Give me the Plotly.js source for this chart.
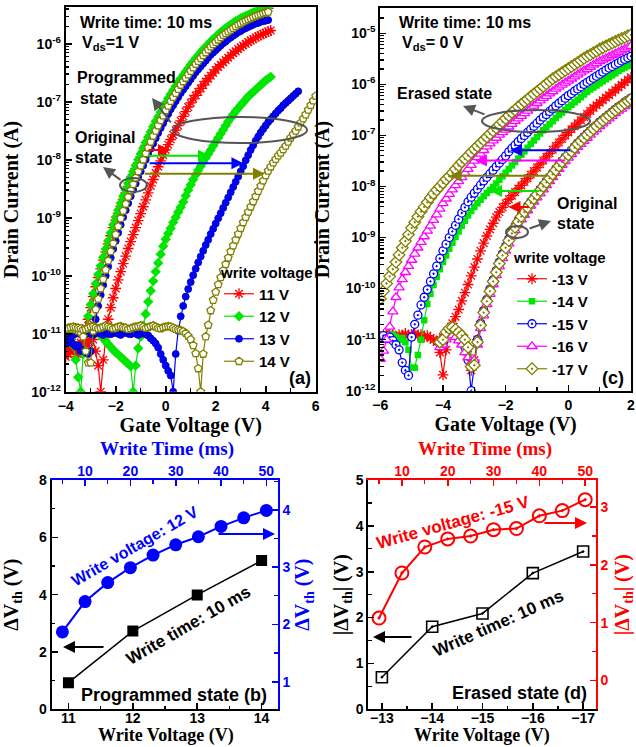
<!DOCTYPE html>
<html><head><meta charset="utf-8">
<script src="https://cdn.plot.ly/plotly-3.0.1.min.js"></script>
<style>html,body{margin:0;padding:0;background:#fff}#chart{width:636px;height:747px}</style>
</head><body><div id="chart"></div>
<script>
// ---------------- DATA ----------------
// Panel (a): transfer curves, log10(Drain current / A) vs gate voltage (0.1 V steps)
const A_START = -4.0;
const A_RED_ORIG = [-11.40,-11.25,-11.30,-11.20,-11.28,-11.35,-11.22,-11.05,-10.90,-10.75,
-10.55,-10.36,-10.19,-10.03,-9.88,-9.73,-9.59,-9.45,-9.31,-9.17,
-9.04,-8.92,-8.80,-8.68,-8.57,-8.46,-8.35,-8.25,-8.15,-8.05,
-7.95,-7.85,-7.75,-7.66,-7.57,-7.48,-7.39,-7.31,-7.23,-7.15,
-7.07,-6.99,-6.92,-6.85,-6.78,-6.71,-6.65,-6.59,-6.53,-6.47,
-6.41,-6.36,-6.30,-6.25,-6.20,-6.15,-6.10,-6.06,-6.01,-5.97,
-5.93,-5.89,-5.85,-5.81,-5.78,-5.74,-5.71,-5.68,-5.65,-5.62,
-5.60,-5.57,-5.55,-5.53,-5.51,-5.49,-5.47,-5.45,-5.43,-5.42,
-5.40,-5.39];
const A_RED_PROG = [-11.20,-11.35,-11.10,-11.25,-11.40,-11.20,-11.15,-11.30,-11.10,-11.20,
-11.05,-11.10,-11.30,-11.55,-12.00,-11.45,-11.05,-10.75,-10.55,-10.38,
-10.22,-10.07,-9.93,-9.79,-9.66,-9.53,-9.41,-9.29,-9.17,-9.05,
-8.93,-8.81,-8.69,-8.57,-8.45,-8.34,-8.23,-8.12,-8.02,-7.92,
-7.83,-7.74,-7.65,-7.57,-7.49,-7.41,-7.33,-7.25,-7.17,-7.09,
-7.02,-6.95,-6.89,-6.83,-6.77,-6.71,-6.65,-6.60,-6.55,-6.50,
-6.45,-6.40,-6.36,-6.32,-6.28,-6.24,-6.20,-6.16,-6.13,-6.09,
-6.06,-6.03,-6.00,-5.97,-5.94,-5.92,-5.89,-5.87,-5.85,-5.83,
-5.81,-5.79,-5.77];
const A_GREEN_ORIG = [-11.10,-11.15,-11.10,-11.20,-11.45,-11.75,-12.00,-11.35,-10.95,-10.70,
-10.50,-10.31,-10.14,-9.98,-9.83,-9.68,-9.54,-9.40,-9.26,-9.12,
-8.99,-8.87,-8.75,-8.63,-8.52,-8.41,-8.30,-8.20,-8.10,-8.00,
-7.90,-7.80,-7.70,-7.61,-7.52,-7.43,-7.34,-7.26,-7.18,-7.10,
-7.02,-6.94,-6.87,-6.80,-6.73,-6.66,-6.60,-6.54,-6.48,-6.42,
-6.36,-6.31,-6.25,-6.20,-6.15,-6.10,-6.05,-6.01,-5.96,-5.92,
-5.88,-5.84,-5.80,-5.77,-5.73,-5.70,-5.67,-5.64,-5.61,-5.59,
-5.56,-5.54,-5.52,-5.50,-5.48,-5.46,-5.44,-5.43,-5.41,-5.40,
-5.38,-5.37];
const A_GREEN_PROG = [-10.98,-11.00,-10.95,-10.97,-10.94,-10.96,-10.93,-10.95,-10.92,-10.90,
-10.92,-10.90,-10.93,-10.98,-11.03,-11.08,-11.13,-11.18,-11.23,-11.28,
-11.32,-11.36,-11.40,-11.44,-11.48,-11.52,-11.56,-12.00,-11.55,-11.25,
-11.05,-10.86,-10.66,-10.45,-10.26,-10.09,-9.93,-9.78,-9.63,-9.49,
-9.37,-9.27,-9.18,-9.08,-8.99,-8.90,-8.82,-8.73,-8.62,-8.52,
-8.43,-8.34,-8.26,-8.18,-8.11,-8.04,-7.97,-7.90,-7.83,-7.76,
-7.69,-7.62,-7.55,-7.48,-7.41,-7.34,-7.28,-7.22,-7.16,-7.11,
-7.06,-7.01,-6.96,-6.91,-6.87,-6.83,-6.79,-6.75,-6.71,-6.67,
-6.63,-6.60,-6.57];
const A_BLUE_ORIG = [-11.10,-11.15,-11.12,-11.18,-11.22,-11.20,-11.30,-11.28,-11.32,-11.35,
-11.30,-11.00,-10.75,-10.52,-10.33,-10.16,-10.00,-9.84,-9.69,-9.54,
-9.40,-9.26,-9.12,-8.99,-8.87,-8.75,-8.63,-8.52,-8.41,-8.30,
-8.20,-8.10,-8.00,-7.90,-7.81,-7.72,-7.63,-7.54,-7.45,-7.37,
-7.29,-7.21,-7.13,-7.06,-6.99,-6.92,-6.85,-6.79,-6.73,-6.67,
-6.61,-6.55,-6.49,-6.44,-6.39,-6.34,-6.29,-6.24,-6.19,-6.15,
-6.11,-6.07,-6.03,-5.99,-5.96,-5.92,-5.89,-5.86,-5.83,-5.80,
-5.78,-5.75,-5.73,-5.71,-5.69,-5.67,-5.65,-5.64,-5.62,-5.61,
-5.60,-5.59];
const A_BLUE_PROG = [-11.05,-11.00,-10.98,-11.02,-11.00,-10.97,-11.01,-11.03,-11.00,-10.98,
-11.00,-11.02,-10.99,-10.97,-11.00,-11.02,-10.98,-11.00,-11.01,-10.99,
-10.98,-11.00,-11.02,-10.99,-10.97,-11.00,-11.01,-10.99,-11.00,-11.02,
-11.00,-10.99,-11.01,-11.03,-11.08,-11.12,-11.17,-11.24,-11.35,-11.45,
-11.55,-11.64,-11.72,-12.00,-11.35,-10.95,-10.70,-10.52,-10.36,-10.23,
-10.11,-9.99,-9.88,-9.77,-9.67,-9.57,-9.47,-9.38,-9.28,-9.19,
-9.10,-9.01,-8.92,-8.83,-8.74,-8.65,-8.56,-8.47,-8.38,-8.29,
-8.20,-8.11,-8.01,-7.92,-7.83,-7.75,-7.67,-7.60,-7.53,-7.47,
-7.41,-7.35,-7.30,-7.25,-7.20,-7.15,-7.11,-7.06,-7.02,-6.98,
-6.94,-6.90,-6.86,-6.82];
const A_OLIVE_ORIG = [-10.95,-10.93,-10.92,-10.92,-10.93,-10.95,-10.98,-11.05,-11.30,-11.50,
-11.50,-10.95,-10.58,-10.40,-10.22,-10.06,-9.90,-9.74,-9.58,-9.44,
-9.29,-9.15,-9.01,-8.88,-8.76,-8.64,-8.53,-8.42,-8.31,-8.20,
-8.10,-8.00,-7.89,-7.79,-7.69,-7.59,-7.50,-7.41,-7.32,-7.24,
-7.15,-7.07,-6.99,-6.92,-6.85,-6.78,-6.71,-6.65,-6.59,-6.53,
-6.47,-6.41,-6.35,-6.30,-6.25,-6.20,-6.15,-6.10,-6.05,-6.01,
-5.97,-5.93,-5.89,-5.85,-5.82,-5.79,-5.76,-5.73,-5.70,-5.67,
-5.65,-5.62,-5.60,-5.58,-5.56,-5.54,-5.52,-5.50,-5.49,-5.47,
-5.46,-5.45];
const A_OLIVE_PROG = [-10.92,-10.90,-10.89,-10.88,-10.89,-10.90,-10.91,-10.93,-10.92,-10.90,
-10.88,-10.87,-10.89,-10.91,-10.90,-10.88,-10.86,-10.87,-10.89,-10.91,
-10.90,-10.88,-10.87,-10.89,-10.90,-10.92,-10.91,-10.89,-10.88,-10.87,
-10.86,-10.88,-10.90,-10.89,-10.87,-10.86,-10.88,-10.90,-10.91,-10.89,
-10.88,-10.87,-10.88,-10.90,-10.92,-10.93,-10.94,-10.96,-10.99,-11.04,
-11.10,-11.20,-11.34,-11.60,-12.00,-11.35,-11.05,-10.85,-10.60,-10.42,
-10.28,-10.15,-10.03,-9.91,-9.80,-9.69,-9.58,-9.48,-9.38,-9.28,
-9.18,-9.08,-8.99,-8.90,-8.81,-8.72,-8.63,-8.54,-8.45,-8.36,
-8.27,-8.19,-8.12,-8.05,-7.99,-7.93,-7.88,-7.82,-7.76,-7.69,
-7.62,-7.56,-7.50,-7.43,-7.36,-7.29,-7.22,-7.14,-7.06,-6.98,
-6.90];
const A_LEGEND = ['11 V','12 V','13 V','14 V'];

// Panel (c): erased curves start at -6.0 V, original curves at -4.1 V
const C_ERASED_START = -6.0;
const C_ORIG_START = -4.1;
const C_RED_ERASED = [-10.95,-10.90,-10.93,-10.88,-10.92,-10.95,-10.90,-10.93,-10.88,-10.92,
-10.90,-10.88,-10.93,-10.90,-10.95,-10.92,-10.97,-11.00,-11.05,-11.25,
-11.69,-11.20,-10.87,-10.68,-10.55,-10.41,-10.24,-10.08,-9.92,-9.75,
-9.58,-9.42,-9.26,-9.11,-8.97,-8.84,-8.72,-8.60,-8.50,-8.41,
-8.33,-8.25,-8.18,-8.11,-8.04,-7.98,-7.91,-7.84,-7.77,-7.70,
-7.63,-7.56,-7.49,-7.42,-7.35,-7.28,-7.21,-7.14,-7.07,-7.00,
-6.94,-6.88,-6.82,-6.76,-6.70,-6.64,-6.58,-6.52,-6.46,-6.41,
-6.36,-6.31,-6.26,-6.21,-6.16,-6.11,-6.06,-6.01,-5.96,-5.91,
-5.86];
const C_GREEN_ERASED = [-10.95,-10.98,-10.92,-10.96,-10.90,-10.95,-11.00,-10.97,-11.05,-11.20,
-11.55,-11.55,-11.30,-11.00,-10.62,-10.30,-10.10,-9.93,-9.77,-9.62,
-9.48,-9.35,-9.22,-9.10,-8.99,-8.88,-8.77,-8.67,-8.57,-8.48,
-8.40,-8.33,-8.26,-8.19,-8.13,-8.07,-8.01,-7.94,-7.87,-7.80,
-7.73,-7.66,-7.59,-7.52,-7.45,-7.38,-7.31,-7.24,-7.17,-7.10,
-7.03,-6.96,-6.90,-6.84,-6.78,-6.72,-6.66,-6.60,-6.55,-6.50,
-6.45,-6.40,-6.35,-6.30,-6.25,-6.20,-6.15,-6.10,-6.06,-6.02,
-5.98,-5.94,-5.90,-5.86,-5.82,-5.78,-5.74,-5.70,-5.67,-5.64,
-5.61];
const C_BLUE_ERASED = [-10.95,-10.92,-10.98,-10.95,-11.02,-11.10,-11.20,-11.45,-11.60,-11.70,
-10.95,-10.70,-10.52,-10.32,-10.17,-10.02,-9.86,-9.71,-9.56,-9.41,
-9.26,-9.13,-9.00,-8.88,-8.76,-8.64,-8.52,-8.41,-8.30,-8.21,
-8.13,-8.05,-7.97,-7.89,-7.82,-7.75,-7.68,-7.61,-7.54,-7.47,
-7.40,-7.32,-7.25,-7.19,-7.12,-7.06,-7.00,-6.94,-6.88,-6.82,
-6.76,-6.70,-6.64,-6.59,-6.53,-6.48,-6.42,-6.37,-6.32,-6.27,
-6.22,-6.18,-6.13,-6.09,-6.05,-6.00,-5.96,-5.92,-5.88,-5.84,
-5.80,-5.76,-5.72,-5.68,-5.65,-5.61,-5.58,-5.54,-5.51,-5.48,
-5.45];
const C_MAGENTA_ERASED = [-11.38,-11.22,-11.00,-10.75,-10.45,-10.17,-9.98,-9.82,-9.68,-9.56,
-9.44,-9.32,-9.20,-9.09,-8.98,-8.87,-8.77,-8.66,-8.55,-8.44,
-8.33,-8.24,-8.15,-8.06,-7.98,-7.90,-7.82,-7.74,-7.66,-7.58,
-7.50,-7.43,-7.36,-7.29,-7.22,-7.16,-7.10,-7.05,-6.99,-6.94,
-6.89,-6.83,-6.78,-6.72,-6.67,-6.62,-6.57,-6.52,-6.47,-6.42,
-6.37,-6.32,-6.27,-6.23,-6.18,-6.14,-6.09,-6.05,-6.01,-5.97,
-5.93,-5.89,-5.85,-5.81,-5.77,-5.73,-5.70,-5.66,-5.62,-5.59,
-5.55,-5.52,-5.49,-5.46,-5.43,-5.40,-5.37,-5.34,-5.31,-5.28,
-5.25];
const C_OLIVE_ERASED = [-10.20,-10.05,-9.90,-9.76,-9.62,-9.48,-9.34,-9.20,-9.07,-8.94,
-8.81,-8.70,-8.59,-8.49,-8.40,-8.31,-8.22,-8.14,-8.07,-8.00,
-7.93,-7.86,-7.80,-7.73,-7.66,-7.59,-7.52,-7.46,-7.40,-7.33,
-7.27,-7.21,-7.15,-7.09,-7.03,-6.97,-6.91,-6.85,-6.79,-6.73,
-6.67,-6.61,-6.55,-6.50,-6.44,-6.39,-6.34,-6.29,-6.24,-6.19,
-6.14,-6.09,-6.04,-5.99,-5.94,-5.89,-5.85,-5.81,-5.77,-5.73,
-5.69,-5.65,-5.61,-5.57,-5.53,-5.49,-5.45,-5.42,-5.38,-5.35,
-5.31,-5.28,-5.25,-5.22,-5.19,-5.16,-5.13,-5.10,-5.08,-5.05,
-5.03];
const C_RED_ORIG = [-11.00,-10.95,-10.90,-10.85,-10.88,-10.92,-10.95,-11.00,-11.10,-11.30,
-11.60,-11.40,-11.00,-10.70,-10.45,-10.24,-10.04,-9.85,-9.67,-9.50,
-9.34,-9.19,-9.05,-8.91,-8.79,-8.68,-8.58,-8.49,-8.40,-8.31,
-8.23,-8.15,-8.07,-7.99,-7.91,-7.83,-7.75,-7.67,-7.59,-7.51,
-7.44,-7.37,-7.30,-7.23,-7.16,-7.10,-7.04,-6.98,-6.92,-6.86,
-6.81,-6.75,-6.70,-6.65,-6.60,-6.55,-6.50,-6.45,-6.41,-6.36,
-6.32,-6.28];
const C_GREEN_ORIG = [-11.02,-10.98,-10.92,-10.88,-10.85,-10.90,-10.96,-11.04,-11.12,-11.28,
-11.50,-11.45,-11.02,-10.71,-10.46,-10.24,-10.04,-9.85,-9.67,-9.50,
-9.35,-9.20,-9.06,-8.92,-8.80,-8.69,-8.59,-8.50,-8.41,-8.32,
-8.24,-8.16,-8.08,-8.00,-7.92,-7.84,-7.76,-7.68,-7.60,-7.52,
-7.45,-7.38,-7.31,-7.24,-7.17,-7.11,-7.05,-6.99,-6.93,-6.87,
-6.82,-6.76,-6.71,-6.66,-6.61,-6.56,-6.51,-6.46,-6.42,-6.37,
-6.33,-6.29];
const C_BLUE_ORIG = [-11.08,-11.05,-10.95,-10.90,-10.88,-10.92,-10.98,-11.05,-11.15,-11.40,
-12.00,-11.45,-11.00,-10.68,-10.43,-10.21,-10.01,-9.83,-9.65,-9.48,
-9.32,-9.17,-9.03,-8.90,-8.78,-8.67,-8.57,-8.48,-8.39,-8.30,
-8.22,-8.14,-8.06,-7.98,-7.90,-7.82,-7.74,-7.66,-7.58,-7.50,
-7.43,-7.36,-7.29,-7.22,-7.15,-7.09,-7.03,-6.97,-6.91,-6.85,
-6.80,-6.74,-6.69,-6.64,-6.59,-6.54,-6.49,-6.44,-6.40,-6.35,
-6.31,-6.27];
const C_MAGENTA_ORIG = [-11.15,-11.10,-11.00,-10.95,-10.92,-10.95,-11.02,-11.10,-11.25,-11.35,
-11.45,-11.40,-11.10,-10.78,-10.53,-10.31,-10.11,-9.92,-9.74,-9.57,
-9.41,-9.26,-9.12,-8.98,-8.86,-8.75,-8.65,-8.56,-8.47,-8.38,
-8.30,-8.22,-8.14,-8.06,-7.98,-7.90,-7.82,-7.74,-7.66,-7.58,
-7.51,-7.44,-7.37,-7.30,-7.23,-7.17,-7.11,-7.05,-6.99,-6.93,
-6.88,-6.82,-6.77,-6.72,-6.67,-6.62,-6.57,-6.52,-6.48,-6.43,
-6.39,-6.35];
const C_OLIVE_ORIG = [-11.05,-11.00,-10.85,-10.78,-10.76,-10.80,-10.86,-10.92,-11.00,-11.15,
-11.53,-11.50,-11.05,-10.72,-10.47,-10.25,-10.05,-9.86,-9.68,-9.51,
-9.35,-9.20,-9.06,-8.92,-8.80,-8.69,-8.59,-8.50,-8.41,-8.32,
-8.24,-8.16,-8.08,-8.00,-7.92,-7.84,-7.76,-7.68,-7.60,-7.52,
-7.45,-7.38,-7.31,-7.24,-7.17,-7.11,-7.05,-6.99,-6.93,-6.87,
-6.82,-6.76,-6.71,-6.66,-6.61,-6.56,-6.51,-6.46,-6.42,-6.37,
-6.33,-6.29];
const C_LEGEND = ['-13 V','-14 V','-15 V','-16 V','-17 V'];

// Panel (b)
const B_VOLT = [11, 12, 13, 14];
const B_DVTH_VOLT = [0.93, 2.73, 3.99, 5.19];
const B_TIME = [5, 10, 15, 20, 25, 30, 35, 40, 45, 50];
const B_DVTH_TIME = [1.87, 2.40, 2.73, 2.99, 3.21, 3.39, 3.53, 3.71, 3.86, 3.99];
// Panel (d)
const D_VOLT = [-13, -14, -15, -16, -17];
const D_DVTH_VOLT = [0.70, 1.80, 2.09, 2.97, 3.44];
const D_TIME = [5, 10, 15, 20, 25, 30, 35, 40, 45, 50];
const D_DVTH_TIME = [1.08, 1.86, 2.31, 2.45, 2.50, 2.61, 2.63, 2.85, 2.94, 3.13];

// ---------------- STYLE ----------------
const W = 636, H = 747;
const PX = x => x / W, PY = y => 1 - y / H;
const RED = '#ff0000', GREEN = '#00e600', BLUE = '#0000ff', MAG = '#ff00ff', OLIVE = '#808000';
const SANS = 'Liberation Sans, Arial, sans-serif';
const SERIF = 'Liberation Serif, Times New Roman, serif';
const TICKF = c => ({family: SANS, size: 14, weight: 'bold', color: c || 'black'});
const TITLEF = (c, s) => ({family: SERIF, size: s || 20, weight: 'bold', color: c || 'black'});

function gate(start, n) { const a = []; for (let i = 0; i < n; i++) a.push(Math.round((start + 0.1 * i) * 10) / 10); return a; }
function logMinor(lo, hi, top) { const v = []; for (let n = lo; n < hi; n++) for (let k = 2; k < 10; k++) { const t = n + Math.log10(k); if (t < top) v.push(t); } return v; }
function expLabels(lo, hi) { const v = [], t = []; for (let n = lo; n <= hi; n++) { v.push(n); t.push('10<sup>' + n + '</sup>'); } return {v, t}; }

const MK = {
  aRed: {symbol: 'asterisk-open', size: 9, color: RED, line: {color: RED, width: 1.3}},
  aGreen: {symbol: 'diamond', size: 8, color: GREEN, line: {width: 0}},
  aBlue: {symbol: 'circle', size: 7, color: BLUE, line: {color: '#0000b0', width: 0.8}},
  aOlive: {symbol: 'pentagon', size: 8, color: 'white', line: {color: OLIVE, width: 1.3}},
  cRed: {symbol: 'asterisk-open', size: 9, color: RED, line: {color: RED, width: 1.3}},
  cGreen: {symbol: 'square', size: 6.5, color: GREEN, line: {width: 0}},
  cBlue: {symbol: 'circle-dot', size: 8, color: 'white', line: {color: BLUE, width: 1.3}},
  cMag: {symbol: 'triangle-up', size: 9, color: 'white', line: {color: MAG, width: 1.3}},
  cOlive: {symbol: 'diamond-dot', size: 9, color: 'white', line: {color: OLIVE, width: 1.3}}
};

function curve(start, vals, color, marker, xa, ya, name, legend) {
  return {x: gate(start, vals.length), y: vals, xaxis: xa, yaxis: ya, type: 'scatter', mode: 'lines+markers',
    line: {color: color, width: 1.2}, marker: marker, name: name || '', showlegend: !!name,
    legend: legend || 'legend', hoverinfo: 'skip'};
}

const traces = [
  curve(A_START, A_RED_ORIG, RED, MK.aRed, 'x', 'y'),
  curve(A_START, A_RED_PROG, RED, MK.aRed, 'x', 'y', A_LEGEND[0], 'legend'),
  curve(A_START, A_GREEN_ORIG, GREEN, MK.aGreen, 'x', 'y'),
  curve(A_START, A_GREEN_PROG, GREEN, MK.aGreen, 'x', 'y', A_LEGEND[1], 'legend'),
  curve(A_START, A_BLUE_ORIG, BLUE, MK.aBlue, 'x', 'y'),
  curve(A_START, A_BLUE_PROG, BLUE, MK.aBlue, 'x', 'y', A_LEGEND[2], 'legend'),
  curve(A_START, A_OLIVE_ORIG, OLIVE, MK.aOlive, 'x', 'y'),
  curve(A_START, A_OLIVE_PROG, OLIVE, MK.aOlive, 'x', 'y', A_LEGEND[3], 'legend'),

  curve(C_ORIG_START, C_RED_ORIG, RED, MK.cRed, 'x2', 'y2'),
  curve(C_ERASED_START, C_RED_ERASED, RED, MK.cRed, 'x2', 'y2', C_LEGEND[0], 'legend2'),
  curve(C_ORIG_START, C_GREEN_ORIG, GREEN, MK.cGreen, 'x2', 'y2'),
  curve(C_ERASED_START, C_GREEN_ERASED, GREEN, MK.cGreen, 'x2', 'y2', C_LEGEND[1], 'legend2'),
  curve(C_ORIG_START, C_BLUE_ORIG, BLUE, MK.cBlue, 'x2', 'y2'),
  curve(C_ERASED_START, C_BLUE_ERASED, BLUE, MK.cBlue, 'x2', 'y2', C_LEGEND[2], 'legend2'),
  curve(C_ORIG_START, C_MAGENTA_ORIG, MAG, MK.cMag, 'x2', 'y2'),
  curve(C_ERASED_START, C_MAGENTA_ERASED, MAG, MK.cMag, 'x2', 'y2', C_LEGEND[3], 'legend2'),
  curve(C_ORIG_START, C_OLIVE_ORIG, OLIVE, MK.cOlive, 'x2', 'y2'),
  curve(C_ERASED_START, C_OLIVE_ERASED, OLIVE, MK.cOlive, 'x2', 'y2', C_LEGEND[4], 'legend2'),

  {x: B_VOLT, y: B_DVTH_VOLT, xaxis: 'x3', yaxis: 'y3', mode: 'lines+markers', showlegend: false, hoverinfo: 'skip',
   line: {color: 'black', width: 1.5}, marker: {symbol: 'square', size: 11, color: 'black'}},
  {x: B_TIME, y: B_DVTH_TIME, xaxis: 'x4', yaxis: 'y4', mode: 'lines+markers', showlegend: false, hoverinfo: 'skip',
   line: {color: BLUE, width: 2}, marker: {symbol: 'circle', size: 13, color: BLUE}},
  {x: D_VOLT, y: D_DVTH_VOLT, xaxis: 'x5', yaxis: 'y5', mode: 'lines+markers', showlegend: false, hoverinfo: 'skip',
   line: {color: 'black', width: 1.5}, marker: {symbol: 'square-open-dot', size: 11, color: 'black', line: {color: 'black', width: 1.6}}},
  {x: D_TIME, y: D_DVTH_TIME, xaxis: 'x6', yaxis: 'y6', mode: 'lines+markers', showlegend: false, hoverinfo: 'skip',
   line: {color: RED, width: 2}, marker: {symbol: 'circle-open-dot', size: 13, color: RED, line: {color: RED, width: 2}}}
];

const yA = expLabels(-12, -6), yC = expLabels(-12, -5);
const base = (c) => ({showgrid: false, zeroline: false, showline: true, linewidth: 2, linecolor: c || 'black',
  ticks: 'inside', ticklen: 6, tickwidth: 1.6, tickcolor: c || 'black', tickfont: TICKF(c)});
const minor = (o, c) => Object.assign({ticks: 'inside', ticklen: 3.5, tickwidth: 1.3, tickcolor: c || 'black', showgrid: false}, o);

const layout = {
  width: W, height: H, margin: {l: 0, r: 0, t: 0, b: 0}, paper_bgcolor: 'white', plot_bgcolor: 'white',
  font: {family: SANS}, hovermode: false,
  xaxis: Object.assign(base(), {domain: [PX(65.7), PX(315.7)], range: [-4, 6], anchor: 'y', mirror: true,
    tickmode: 'array', tickvals: [-4, -2, 0, 2, 4, 6], title: {text: 'Gate Voltage (V)', font: TITLEF(), standoff: 3},
    minor: minor({tickmode: 'array', tickvals: [-3, -1, 1, 3, 5]})}),
  yaxis: Object.assign(base(), {domain: [PY(391.7), PY(7.3)], range: [-12, -5.37], anchor: 'x', mirror: true,
    tickmode: 'array', tickvals: yA.v, ticktext: yA.t, title: {text: 'Drain Current (A)', font: TITLEF()},
    minor: minor({tickmode: 'array', tickvals: logMinor(-12, -5, -5.37)})}),
  xaxis2: Object.assign(base(), {domain: [PX(380.3), PX(631)], range: [-6, 2], anchor: 'y2', mirror: true,
    tickmode: 'array', tickvals: [-6, -4, -2, 0, 2], title: {text: 'Gate Voltage (V)', font: TITLEF(), standoff: 3},
    minor: minor({tickmode: 'array', tickvals: [-5, -3, -1, 1]})}),
  yaxis2: Object.assign(base(), {domain: [PY(390.7), PY(8.3)], range: [-12, -4.51], anchor: 'x2', mirror: true,
    tickmode: 'array', tickvals: yC.v, ticktext: yC.t, title: {text: 'Drain Current (A)', font: TITLEF()},
    minor: minor({tickmode: 'array', tickvals: logMinor(-12, -4, -4.51)})}),

  xaxis3: Object.assign(base(), {domain: [PX(51.7), PX(277.7)], range: [10.74, 14.25], anchor: 'y3', dtick: 1,
    ticklabelstandoff: -5, minor: minor({dtick: 0.5})}),
  yaxis3: Object.assign(base(), {domain: [PY(709.3), PY(480)], range: [0, 8], anchor: 'x3', dtick: 2,
    title: {text: 'ΔV<sub>th</sub> (V)', font: TITLEF()}, minor: minor({dtick: 1})}),
  xaxis4: Object.assign(base(BLUE), {overlaying: 'x3', side: 'top', anchor: 'y3', range: [2.64, 52.5], tick0: 0, dtick: 10,
    ticklabelstandoff: -4, minor: minor({dtick: 5}, BLUE)}),
  yaxis4: Object.assign(base(BLUE), {overlaying: 'y3', side: 'right', anchor: 'x3', range: [0.52, 4.52], dtick: 1,
    title: {text: 'ΔV<sub>th</sub> (V)', font: TITLEF(BLUE), standoff: 6}, minor: minor({dtick: 0.5}, BLUE)}),

  xaxis5: Object.assign(base(), {domain: [PX(368.3), PX(595.7)], range: [-12.73, -17.25], anchor: 'y5', dtick: 1,
    ticklabelstandoff: -5, minor: minor({dtick: 0.5})}),
  yaxis5: Object.assign(base(), {domain: [PY(709.3), PY(480)], range: [0, 5], anchor: 'x5', dtick: 1,
    title: {text: '|ΔV<sub>th</sub>| (V)', font: TITLEF(), standoff: 2}, minor: minor({dtick: 0.5})}),
  xaxis6: Object.assign(base(RED), {overlaying: 'x5', side: 'top', anchor: 'y5', range: [2.66, 52.3], tick0: 0, dtick: 10,
    ticklabelstandoff: -4, minor: minor({dtick: 5}, RED)}),
  yaxis6: Object.assign(base(RED), {overlaying: 'y5', side: 'right', anchor: 'x5', range: [-0.5, 3.47], dtick: 1,
    title: {text: '|ΔV<sub>th</sub>| (V)', font: TITLEF(RED)}, minor: minor({dtick: 0.5}, RED)}),

  legend: {x: PX(219), y: PY(258), xanchor: 'left', yanchor: 'top', bgcolor: 'rgba(0,0,0,0)', tracegroupgap: 0,
    title: {text: 'write voltage', font: {family: SANS, size: 15, weight: 'bold', color: 'black'}},
    font: {family: SANS, size: 15, weight: 'bold', color: 'black'}},
  legend2: {x: PX(512), y: PY(243), xanchor: 'left', yanchor: 'top', bgcolor: 'rgba(0,0,0,0)', tracegroupgap: 0,
    title: {text: 'write voltage', font: {family: SANS, size: 15, weight: 'bold', color: 'black'}},
    font: {family: SANS, size: 15, weight: 'bold', color: 'black'}},
  shapes: [
    {type: 'circle', xref: 'paper', yref: 'paper', x0: PX(173), x1: PX(307), y0: PY(143), y1: PY(117), line: {color: '#555', width: 2}},
    {type: 'circle', xref: 'paper', yref: 'paper', x0: PX(120), x1: PX(147), y0: PY(192), y1: PY(178), line: {color: '#555', width: 2}},
    {type: 'circle', xref: 'paper', yref: 'paper', x0: PX(482), x1: PX(590), y0: PY(132), y1: PY(110), line: {color: '#555', width: 2}},
    {type: 'circle', xref: 'paper', yref: 'paper', x0: PX(506), x1: PX(528), y0: PY(238), y1: PY(226), line: {color: '#555', width: 2}}
  ],
  annotations: []
};

const ann = layout.annotations;
function txt(x, y, text, opt) {
  ann.push(Object.assign({xref: 'paper', yref: 'paper', x: PX(x), y: PY(y), text: text, showarrow: false,
    xanchor: 'left', yanchor: 'middle', font: {family: SANS, size: 16, weight: 'bold', color: 'black'}}, opt || {}));
}
function parrow(tx, ty, sx, sy, color) {
  ann.push({xref: 'paper', yref: 'paper', x: PX(tx), y: PY(ty), ax: sx - tx, ay: sy - ty, text: '', showarrow: true,
    arrowhead: 2, arrowsize: 1.2, arrowwidth: 2, arrowcolor: color});
}
function darrow(xa, ya, tipX, tailX, y, color) {
  ann.push({xref: xa, yref: ya, axref: xa, ayref: ya, x: tipX, y: y, ax: tailX, ay: y, text: '', showarrow: true,
    arrowhead: 2, arrowsize: 1.2, arrowwidth: 2, arrowcolor: color});
}
// axis titles of the lower panels (placed as text to match the reference spacing)
txt(166, 747, 'Write Voltage (V)', {xanchor: 'center', yanchor: 'bottom', yshift: -1, font: TITLEF(null, 18)});
txt(167, 449, 'Write Time (ms)', {xanchor: 'center', font: TITLEF(BLUE, 19)});
txt(482, 747, 'Write Voltage (V)', {xanchor: 'center', yanchor: 'bottom', yshift: -1, font: TITLEF(null, 18)});
txt(485, 449, 'Write Time (ms)', {xanchor: 'center', font: TITLEF(RED, 19)});
// panel (a)
txt(78, 22, 'Write time: 10 ms');
txt(80, 43, 'V<sub>ds</sub>=1 V');
txt(75, 78, 'Programmed');
txt(78, 99, 'state');
txt(73, 137, 'Original');
txt(73, 158, 'state');
txt(313, 378, '(a)', {xanchor: 'right', font: {family: SANS, size: 18, weight: 'bold', color: 'black'}});
parrow(152, 98, 172, 124, '#555');
parrow(103, 167, 122, 181, '#555');
darrow('x', 'y', 0.17, -0.74, -7.83, RED);
darrow('x', 'y', 1.77, -0.74, -7.93, GREEN);
darrow('x', 'y', 3.11, -0.70, -8.06, BLUE);
darrow('x', 'y', 3.97, -0.90, -8.24, OLIVE);
// panel (c)
txt(397, 22, 'Write time: 10 ms');
txt(400, 43, 'V<sub>ds</sub>= 0 V');
txt(395, 93, 'Erased state');
txt(555, 203, 'Original');
txt(555, 224, 'state');
txt(626, 378, '(c)', {xanchor: 'right', font: {family: SANS, size: 18, weight: 'bold', color: 'black'}});
parrow(463, 106, 486, 115, '#555');
parrow(551, 221, 528, 229, '#555');
darrow('x2', 'y2', -1.86, 0.11, -7.29, BLUE);
darrow('x2', 'y2', -2.98, -0.05, -7.49, MAG);
darrow('x2', 'y2', -3.79, -0.61, -7.79, OLIVE);
darrow('x2', 'y2', -2.50, -0.89, -8.09, GREEN);
darrow('x2', 'y2', -1.91, -1.21, -8.40, RED);
// panel (b)
txt(134, 546, 'Write voltage: 12 V', {xanchor: 'center', textangle: -30, font: {family: SANS, size: 16, weight: 'bold', color: BLUE}});
txt(188, 625, 'Write time: 10 ms', {xanchor: 'center', textangle: -30, font: {family: SANS, size: 17, weight: 'bold', color: 'black'}});
txt(174, 695, 'Programmed state (b)', {xanchor: 'center', font: {family: SANS, size: 18, weight: 'bold', color: 'black'}});
parrow(63, 647, 105, 647, 'black');
parrow(275, 534, 217, 534, BLUE);
// panel (d)
txt(453, 522, 'Write voltage: -15 V', {xanchor: 'center', textangle: -15.5, font: {family: SANS, size: 17, weight: 'bold', color: RED}});
txt(498, 623, 'Write time: 10 ms', {xanchor: 'center', textangle: -24, font: {family: SANS, size: 17, weight: 'bold', color: 'black'}});
txt(519, 693, 'Erased state (d)', {xanchor: 'center', font: {family: SANS, size: 18, weight: 'bold', color: 'black'}});
parrow(373, 637, 413, 637, 'black');
parrow(587, 523, 543, 523, RED);

Plotly.newPlot('chart', traces, layout, {staticPlot: true, displayModeBar: false});
</script></body></html>
